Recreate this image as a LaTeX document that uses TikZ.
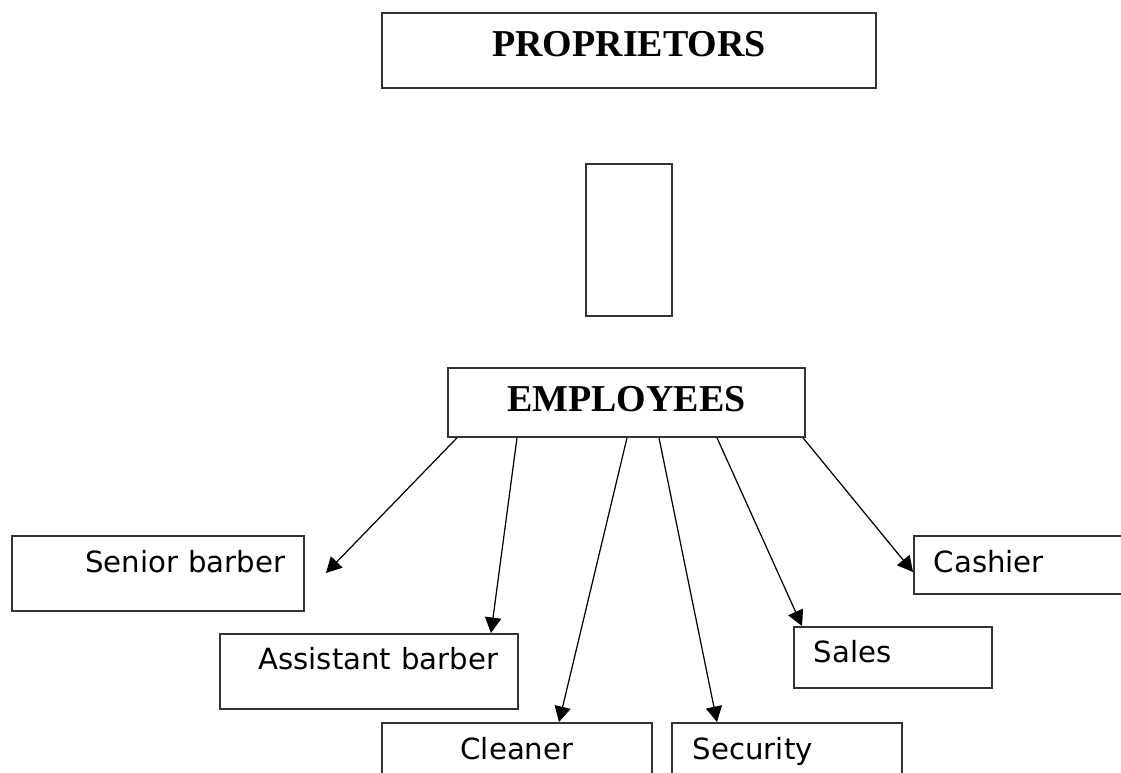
\documentclass[tikz,border=0pt]{standalone}
\usepackage{fontspec}
\setmainfont{Liberation Serif}
\newfontfamily\boxsans{DejaVu Sans}
\usetikzlibrary{calc,arrows.meta,positioning}
\definecolor{boxline}{HTML}{333333}

\tikzset{
  head/.style={draw=boxline, line width=0.5pt, inner sep=0pt, anchor=north west,
    align=center, font=\fontsize{10.8}{13}\selectfont\bfseries},
  post/.style={draw=boxline, line width=0.5pt, inner ysep=0pt, anchor=north west,
    font=\boxsans\fontsize{8.3}{10}\selectfont},
  link/.style={-{Triangle[length=4.4pt,width=4.6pt]}, line width=0.35pt}
}

\begin{document}
\begin{tikzpicture}[x=0.01cm, y=-0.01cm]
  % page frame (1121 x 772)
  \clip (0,0) rectangle (1121,772);
  % top of the chart
  \node[head, text width=4.94cm, text height=0.44cm, text depth=0.31cm] (prop) at (381,12) {PROPRIETORS};
  \node[draw=boxline, line width=0.5pt, anchor=north west, minimum width=0.86cm, minimum height=1.52cm] (gap) at (585,163) {};
  \node[head, text width=3.57cm, text height=0.44cm, text depth=0.25cm] (emp) at (447,367) {EMPLOYEES};
  % staff boxes
  \node[post, align=right, inner xsep=0.19cm, text width=2.54cm, text height=0.37cm, text depth=0.38cm] (senior) at (11,535) {Senior barber};
  \node[post, align=right, inner xsep=0.20cm, text width=2.58cm, text height=0.36cm, text depth=0.39cm] (asst) at (219,633) {Assistant barber};
  \node[post, align=center, inner xsep=0pt, text width=2.70cm, text height=0.37cm, text depth=0.38cm] (clean) at (381,722) {Cleaner};
  \node[post, align=left, inner xsep=0.21cm, text width=1.88cm, text height=0.37cm, text depth=0.38cm] (sec) at (671,722) {Security};
  \node[post, align=left, inner xsep=0.20cm, text width=1.58cm, text height=0.36cm, text depth=0.25cm] (sales) at (793,626) {Sales};
  \node[post, align=left, inner xsep=0.20cm, text width=1.90cm, text height=0.37cm, text depth=0.21cm] (cash) at (913,535) {Cashier};
  \coordinate (senior-tip) at (326,573);
  % links from employees
  \draw[link] ($(emp.south west)+(10,0)$) -- (senior-tip);
  \draw[link] ($(emp.south west)+(70,0)$) -- ($(asst.north west)+(272,0)$);
  \draw[link] ($(emp.south west)+(180,0)$) -- ($(clean.north west)+(178,0)$);
  \draw[link] ($(emp.south west)+(212,0)$) -- ($(sec.north west)+(46,0)$);
  \draw[link] ($(emp.south west)+(270,0)$) -- ($(sales.north west)+(9,0)$);
  \draw[link] ($(emp.south west)+(356,0)$) -- ($(cash.north west)+(0,37)$);
\end{tikzpicture}
\end{document}
